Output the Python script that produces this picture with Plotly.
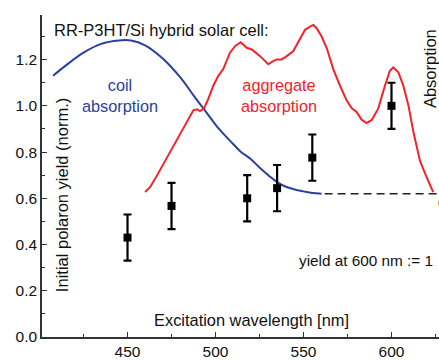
import plotly.graph_objects as go

# ---- data ----
coil_wl = [407.7, 415, 425, 435, 445, 452, 460, 470, 480, 488, 495, 502, 510, 514,
           520, 525, 530, 535, 540, 545, 550, 555, 560.3]
coil_abs = [1.130, 1.175, 1.230, 1.268, 1.283, 1.283, 1.262, 1.205, 1.123, 1.040,
            0.970, 0.900, 0.835, 0.804, 0.770, 0.733, 0.700, 0.670, 0.650, 0.638,
            0.630, 0.623, 0.620]

agg_wl = [460.0, 462.8, 465.6, 470.3, 474.1, 479.8, 483.6, 487.4, 489.5, 491.2, 493.5,
          495.9, 498.8, 501.6, 504.4, 508.2, 511.1, 514.3, 517.7, 520.6, 525.3, 530.0,
          532.5, 534.8, 537.6, 540.5, 544.2, 548.0, 550.9, 553.7, 555.6, 557.5, 560.3,
          563.2, 566.9, 570.7, 574.5, 577.4, 580.2, 583.1, 585.9, 588.8, 592.5, 596.3,
          599.1, 601.0, 603.9, 606.7, 609.6, 612.4, 616.2, 620.0, 623.7]
agg_abs = [0.627, 0.648, 0.683, 0.747, 0.804, 0.875, 0.932, 0.981, 0.985, 0.977, 0.989,
           1.030, 1.088, 1.130, 1.159, 1.230, 1.258, 1.275, 1.251, 1.244, 1.215, 1.180,
           1.192, 1.201, 1.201, 1.215, 1.237, 1.286, 1.329, 1.343, 1.350, 1.336, 1.300,
           1.250, 1.159, 1.088, 1.024, 0.989, 0.974, 0.939, 0.925, 0.939, 0.989, 1.088,
           1.152, 1.166, 1.145, 1.088, 1.003, 0.889, 0.762, 0.691, 0.627]

baseline_wl = [562, 630]
baseline_val = [0.62, 0.62]

yield_wl = [450, 475, 518, 535, 555, 600]
yield_val = [0.43, 0.567, 0.60, 0.644, 0.776, 1.00]
yield_err = [0.10, 0.10, 0.10, 0.10, 0.10, 0.10]

x_ticks = [450, 500, 550, 600]
y_ticks = [0.0, 0.2, 0.4, 0.6, 0.8, 1.0, 1.2]

FONT = "Liberation Sans, Arial, sans-serif"
BLUE = "#2b3f9e"
RED = "#f5222a"
INK = "#111111"

fig = go.Figure()
fig.add_trace(go.Scatter(x=coil_wl, y=coil_abs, mode="lines",
                         line=dict(color=BLUE, width=2, shape="spline"),
                         hoverinfo="skip", showlegend=False))
fig.add_trace(go.Scatter(x=agg_wl, y=agg_abs, mode="lines",
                         line=dict(color=RED, width=2),
                         hoverinfo="skip", showlegend=False))
fig.add_trace(go.Scatter(x=baseline_wl, y=baseline_val, mode="lines",
                         line=dict(color="#222222", width=1.6, dash="8px,5px"),
                         hoverinfo="skip", showlegend=False))
fig.add_trace(go.Scatter(x=yield_wl, y=yield_val, mode="markers",
                         marker=dict(symbol="square", size=8, color="black"),
                         error_y=dict(type="data", array=yield_err, color="black",
                                      thickness=2.2, width=4),
                         showlegend=False))

annots = [
    dict(x=0.025, y=1.33, xref="paper", yref="y", text="RR-P3HT/Si hybrid solar cell:",
         xanchor="left", yanchor="middle", font=dict(size=16.5, color=INK)),
    dict(x=445.7, y=1.044, text="coil<br>absorption", xanchor="center", yanchor="middle",
         font=dict(size=16.3, color=BLUE)),
    dict(x=536, y=1.044, text="aggregate<br>absorption", xanchor="center", yanchor="middle",
         font=dict(size=16.3, color=RED)),
    dict(x=585.5, y=0.329, text="yield at 600 nm := 1", xanchor="center", yanchor="middle",
         font=dict(size=15.3, color=INK)),
    dict(x=520.7, y=0.074, text="Excitation wavelength [nm]", xanchor="center",
         yanchor="middle", font=dict(size=16.4, color=INK)),
    dict(x=412.8, y=0.614, text="Initial polaron yield (norm.)", textangle=-90,
         xanchor="center", yanchor="middle", font=dict(size=16.5, color=INK)),
    dict(x=1.0, y=1.159, xref="paper", text="Absorption", textangle=-90,
         xanchor="right", yanchor="middle", xshift=2, font=dict(size=16.5, color=INK)),
    dict(x=1.0, y=0.58, xref="paper", text="0", xanchor="left", yanchor="middle",
         xshift=-3, font=dict(size=15.5, color=INK)),
]
for a in annots:
    a.setdefault("xref", "x")
    a.setdefault("yref", "y")
    a["showarrow"] = False

fig.update_layout(
    width=439, height=360,
    margin=dict(l=42, r=0, t=15, b=18),
    paper_bgcolor="white", plot_bgcolor="white",
    font=dict(family=FONT, size=15.5, color=INK),
    annotations=annots,
    xaxis=dict(range=[401.4, 627.0], tickvals=x_ticks, ticks="inside", ticklen=5,
               tickwidth=1.3, tickcolor="#333", showline=True, linecolor="#333",
               linewidth=1.6, showgrid=False, zeroline=False,
               tickfont=dict(size=15.5, color=INK),
               minor=dict(dtick=25, tick0=400, ticks="inside", ticklen=3,
                          tickcolor="#333", showgrid=False)),
    yaxis=dict(range=[0, 1.393], tickvals=y_ticks, tickformat=".1f", ticks="inside",
               ticklen=5, tickwidth=1.3, tickcolor="#333", showline=True,
               linecolor="#333", linewidth=1.6, showgrid=False, zeroline=False,
               tickfont=dict(size=15.5, color=INK),
               minor=dict(dtick=0.1, tick0=0, ticks="inside", ticklen=3,
                          tickcolor="#333", showgrid=False)),
)

fig.write_html("out.html")
